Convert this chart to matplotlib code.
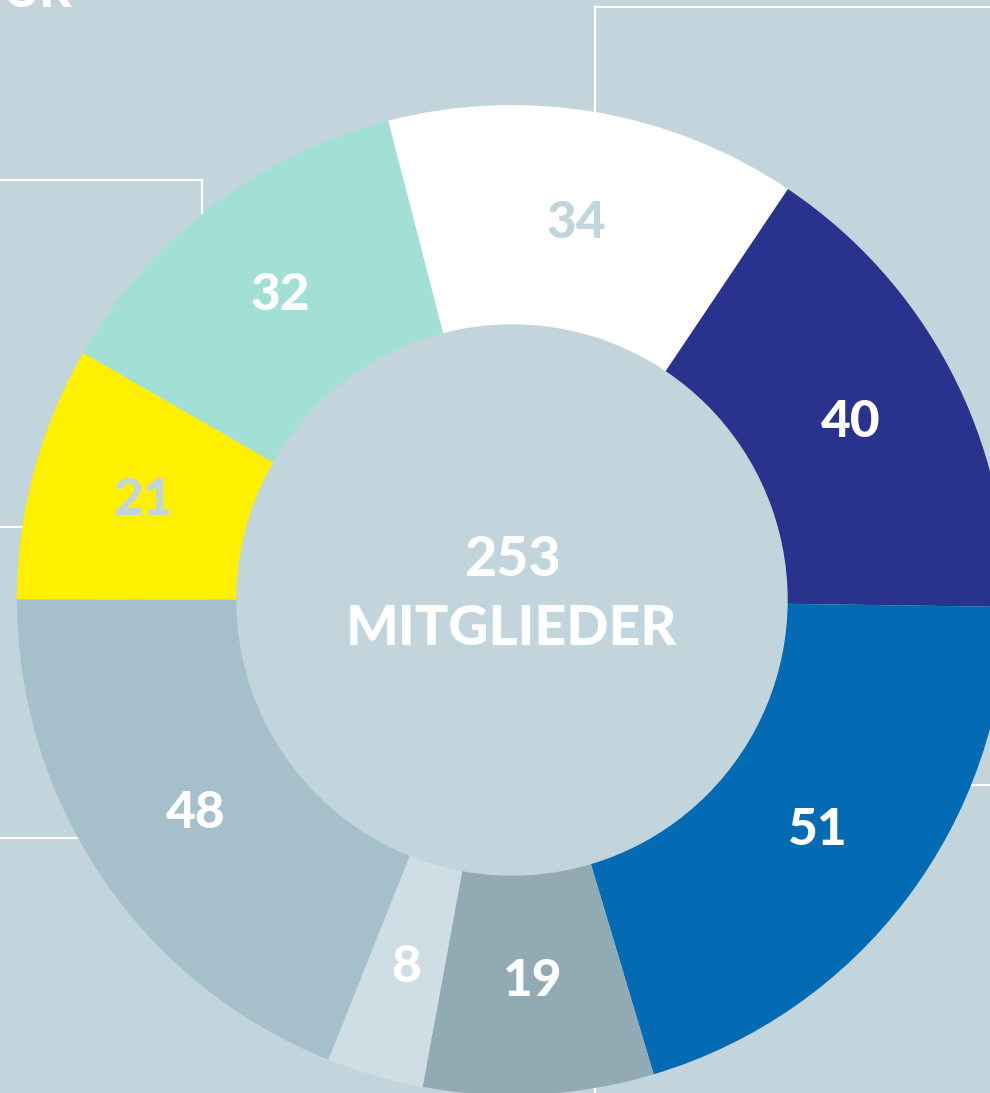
import matplotlib.pyplot as plt
import numpy as np

# Mitglieder je Gruppe (im Uhrzeigersinn, oben beginnend)
werte = [34, 40, 51, 19, 8, 48, 21, 32]
farben = ['#ffffff', '#29338e', '#036bb4', '#91aab4', '#cfdde5', '#a6c0cb', '#fff000', '#a2e0d6']
label_farben = ['#c2d4dc', 'white', 'white', 'white', 'white', 'white', '#c2d4dc', 'white']
gesamt = sum(werte)

bg = '#c2d4dc'
plt.rcParams['font.family'] = ['Lato', 'DejaVu Sans']

fig = plt.figure(figsize=(9.9, 10.93), dpi=100, facecolor=bg)
ax = fig.add_axes([0, 0, 1, 1])
ax.set_facecolor(bg)

H = 1093
cx, cy = 512, H - 600
r_out, r_in = 495, 275

# dekorative Linien im Hintergrund
linien = [((595, 990), (7, 7)), ((595, 595), (7, 300)), ((0, 202), (180, 180)),
          ((202, 202), (180, 400)), ((0, 40), (527, 527)), ((0, 90), (838, 838)),
          ((960, 990), (785, 785)), ((595, 595), (1000, 1093))]
for xs, ys in linien:
    ax.plot(xs, [H - y for y in ys], color='white', lw=1.6, zorder=1)

wedges, _ = ax.pie(werte, colors=farben, startangle=104.5, counterclock=False,
                   center=(cx, cy), radius=r_out, frame=False,
                   wedgeprops=dict(linewidth=0))
for w in wedges:
    w.set_zorder(2)
ax.add_patch(plt.Circle((cx, cy), r_in, color=bg, zorder=3))

for w, v, c in zip(wedges, werte, label_farben):
    ang = np.deg2rad((w.theta1 + w.theta2) / 2)
    r = 382
    ax.text(cx + r * np.cos(ang), cy + r * np.sin(ang), str(v), color=c,
            fontsize=37, fontweight='black', ha='center', va='center', zorder=4)

ax.text(cx, H - 560, str(gesamt), color='white', fontsize=40, fontweight='black',
        ha='center', va='center', zorder=4)
ax.text(cx, H - 629, 'MITGLIEDER', color='white', fontsize=40, fontweight='black',
        ha='center', va='center', zorder=4)

ax.text(3, H - 7, 'UR', color='white', fontsize=36, fontweight='black',
        ha='left', va='baseline', zorder=4)

ax.set_xlim(0, 990)
ax.set_ylim(0, H)
ax.set_aspect('auto')
ax.axis('off')

fig.savefig('out.png', dpi=100, facecolor=bg)
